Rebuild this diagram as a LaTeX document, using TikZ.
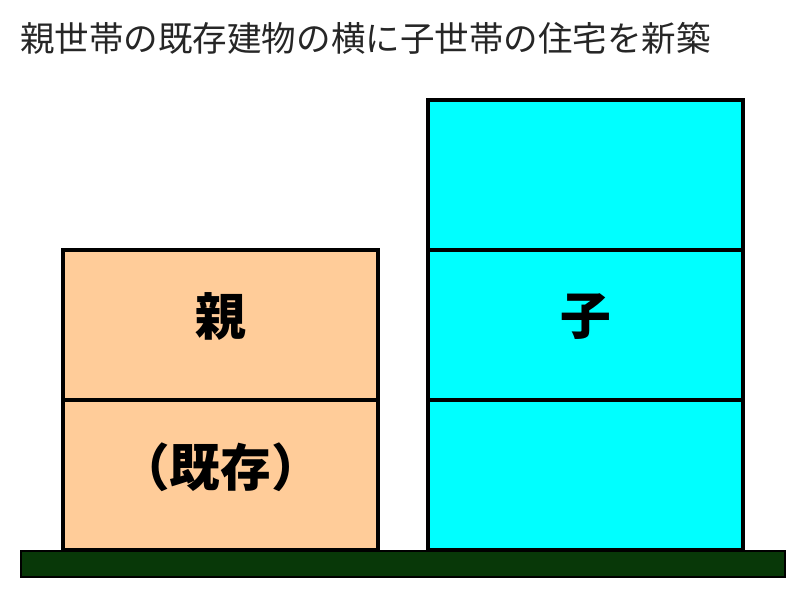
\documentclass[tikz,border=0pt]{standalone}
\usepackage{fontspec}
\newfontfamily\jpfont{Noto Sans CJK JP}
\usetikzlibrary{positioning}

\definecolor{oyacolor}{HTML}{FFCC99}
\definecolor{kocolor}{HTML}{00FFFF}
\definecolor{groundcolor}{HTML}{083808}

\begin{document}
\begin{tikzpicture}[x=0.75pt,y=-0.75pt,
    floor/.style={draw=black,line width=2.6pt,minimum width=236pt,minimum height=112.5pt,inner sep=0pt,outer sep=0pt,
      text depth=16pt,font=\jpfont\bfseries\fontsize{38}{38}\selectfont},
    oyafloor/.style={floor,fill=oyacolor},
    kofloor/.style={floor,fill=kocolor}]
    \useasboundingbox (0,0) rectangle (800,600);
    \node[anchor=west,inner sep=0pt,font=\jpfont\fontsize{25.9}{26}\selectfont,text=black!85] (title) at (20,38) {親世帯の既存建物の横に子世帯の住宅を新築};
    % ground
    \draw[black,line width=0.8pt,fill=groundcolor] (21,551) rectangle (785,577);
    % parents (existing)
    \node[oyafloor] (oya1) at (220.5,475) {（既存）};
    \node[oyafloor,above=0pt of oya1] (oya2) {親};
    % child (new)
    \node[kofloor] (ko1) at (585.5,475) {};
    \node[kofloor,above=0pt of ko1] (ko2) {子};
    \node[kofloor,above=0pt of ko2] (ko3) {};
  \end{tikzpicture}
\end{document}
